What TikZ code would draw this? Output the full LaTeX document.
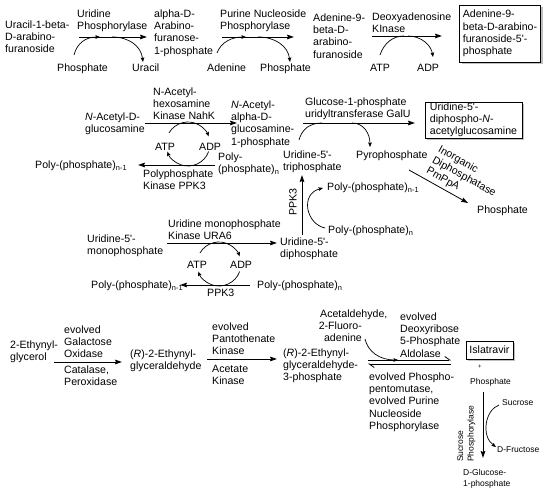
\documentclass[tikz,border=0pt]{standalone}
\usepackage{fontspec}
\setmainfont{Liberation Sans}
\usetikzlibrary{arrows.meta,shadows,calc}
\newcommand\fm{\fontsize{10.6}{12.2}\selectfont}
\newcommand\fsm{\fontsize{8.5}{10.5}\selectfont}
\newcommand\q{\textquotesingle}
\begin{document}
\begin{tikzpicture}[x=1pt,y=-1pt,
  lbl/.style={inner sep=0pt, align=left, anchor=north west, yshift=4.4pt, font=\fm},
  lblr/.style={inner sep=0pt, align=right, anchor=north east, yshift=4.4pt, font=\fm},
  sml/.style={inner sep=0pt, align=left, anchor=north west, yshift=3.6pt, font=\fsm},
  rx/.style={line width=0.8pt, -{Stealth[length=7pt,width=4.6pt,inset=1pt]}},
  cur/.style={line width=0.7pt, -{Stealth[length=4.5pt,width=3.6pt,inset=0.8pt]}},
  plainc/.style={line width=0.7pt},
  hpr/.style={line width=0.8pt, -{Straight Barb[left,length=5pt,width=7pt]}},
  box/.style={draw, line width=0.8pt, fill=white, inner sep=0pt, align=left, font=\fm,
    drop shadow={shadow xshift=2pt,shadow yshift=-2pt,fill=black!50}}
]
\fill[white] (0,0) rectangle (550,494);
\useasboundingbox (0,0) rectangle (550,494);

% ---------- Row 1 ----------
\node[lbl] (n1) at (5,25) {Uracil-1-beta-\\D-arabino-\\furanoside};
\node[lbl] (e1) at (77,14) {Uridine\\Phosphorylase};
\node[lbl] (p1) at (57,68) {Phosphate};
\node[lbl] (u1) at (132,68) {Uracil};
\node[lbl] (n2) at (154,14) {alpha-D-\\Arabino-\\furanose-\\1-phosphate};
\node[lbl] (e2) at (220,14) {Purine Nucleoside\\Phosphorylase};
\node[lbl] (ad) at (207,68) {Adenine};
\node[lbl] (p2) at (260,68) {Phosphate};
\node[lbl] (n3) at (313,18) {Adenine-9-\\beta-D-\\arabino-\\furanoside};
\node[lbl] (e3) at (372,17) {Deoxyadenosine\\KInase};
\node[lbl] (atp1) at (370,68) {ATP};
\node[lbl] (adp1) at (417,68) {ADP};
\node[box, minimum width=81pt, minimum height=57pt] (b1) at (500,33.5)
  {Adenine-9-\\beta-D-arabino-\\furanoside-5\q-\\phosphate};

\coordinate (a1s) at (79,37);  \coordinate (a1e) at (147,37);
\coordinate (c1s) at (74,55);  \coordinate (c1e) at (100,37);
\coordinate (d1s) at (112,37); \coordinate (d1e) at (143,62);
\draw[rx] (a1s) -- (a1e);
\draw[cur] (c1s) .. controls (77,43) and (86,37) .. (c1e);
\draw[cur] (d1s) .. controls (129,37) and (141,46) .. (d1e);

\coordinate (a2s) at (222,37); \coordinate (a2e) at (294,37);
\coordinate (c2s) at (217,53); \coordinate (c2e) at (246,37);
\coordinate (d2s) at (258,37); \coordinate (d2e) at (290,62);
\draw[rx] (a2s) -- (a2e);
\draw[cur] (c2s) .. controls (221,42) and (232,37) .. (c2e);
\draw[cur] (d2s) .. controls (275,37) and (288,46) .. (d2e);

\coordinate (a3s) at (372,36); \coordinate (a3e) at (442,36);
\coordinate (c3s) at (380,55); \coordinate (c3e) at (404,36);
\coordinate (d3s) at (408,36); \coordinate (d3e) at (433,57);
\draw[rx] (a3s) -- (a3e);
\draw[plainc] (c3s) .. controls (384,43) and (393,36) .. (c3e);
\draw[cur] (d3s) .. controls (421,36) and (431,45) .. (d3e);

% ---------- Row 2 ----------
\node[lbl] (e4) at (153,92) {N-Acetyl-\\hexosamine\\Kinase NahK};
\node[lbl] (n4) at (85,117) {\textit{N}-Acetyl-D-\\glucosamine};
\node[lbl] (n5) at (231,105) {\textit{N}-Acetyl-\\alpha-D-\\glucosamine-\\1-phosphate};
\node[lbl] (atp2) at (155,147) {ATP};
\node[lbl] (adp2) at (199,147) {ADP};
\node[lbl] (pn1) at (35,165) {Poly-(phosphate)\textsubscript{n-1}};
\node[lbl] (e5) at (143,174) {Polyphosphate\\Kinase PPK3};
\node[lbl] (pn2) at (218,157) {Poly-\\(phosphate)\textsubscript{n}};

\coordinate (a4s) at (145,123); \coordinate (a4e) at (237,123);
\coordinate (a5s) at (215,165); \coordinate (a5e) at (138,165);
\draw[rx] (a4s) -- (a4e);
\draw[rx] (a5s) -- (a5e);
\coordinate (k1) at (188,144);
\draw[cur] ($(k1)+(210:22)$) arc[start angle=210, end angle=340, radius=22];
\draw[cur] ($(k1)+(20:22)$) arc[start angle=20, end angle=160, radius=22];

\node[lbl] (e6) at (305,102) {Glucose-1-phosphate\\uridyltransferase GalU};
\node[lbl] (utp) at (283,155) {Uridine-5\q-\\triphosphate};
\node[lbl] (ppi) at (356,155) {Pyrophosphate};
\node[box, minimum width=97pt, minimum height=36pt] (b2) at (473.5,120)
  {Uridine-5\q-\\diphospho-\textit{N}-\\acetylglucosamine};
\coordinate (a6s) at (303,123); \coordinate (a6e) at (415,123);
\coordinate (c6s) at (299,140); \coordinate (c6e) at (322,123);
\coordinate (d6s) at (352,123); \coordinate (d6e) at (370,147);
\draw[rx] (a6s) -- (a6e);
\draw[plainc] (c6s) .. controls (302,129) and (310,123) .. (c6e);
\draw[cur] (d6s) .. controls (364,123) and (370,134) .. (d6e);

\node[font=\fm, align=left, rotate=-29, inner sep=0pt] (e7) at (464,177) {Inorganic\\Diphosphatase\\PmPpA};
\node[lbl] (p3) at (477,210) {Phosphate};
\coordinate (a7s) at (409,170); \coordinate (a7e) at (468,203);
\draw[rx] (a7s) -- (a7e);

\node[font=\fm, rotate=90, inner sep=0pt] (ppk) at (293,202) {PPK3};
\node[lbl] (pn3) at (327,187) {Poly-(phosphate)\textsubscript{n-1}};
\node[lbl] (pn4) at (328,230) {Poly-(phosphate)\textsubscript{n}};
\node[lbl] (udp) at (280,242) {Uridine-5\q-\\diphosphate};
\coordinate (a8s) at (302,235); \coordinate (a8e) at (302,175);
\draw[rx] (a8s) -- (a8e);
\coordinate (c8s) at (325,228); \coordinate (c8e) at (323,188);
\draw[cur] (c8s) .. controls (306,224) and (300,194) .. (c8e);

% ---------- Row 3 ----------
\node[lbl] (e8) at (168,224) {Uridine monophosphate\\Kinase URA6};
\node[lbl] (ump) at (87,239) {Uridine-5\q-\\monophosphate};
\node[lbl] (atp3) at (187,265) {ATP};
\node[lbl] (adp3) at (230,265) {ADP};
\node[lbl] (pn5) at (91,285) {Poly-(phosphate)\textsubscript{n-1}};
\node[lbl] (ppk2) at (207,293) {PPK3};
\node[lbl] (pn6) at (257,285) {Poly-(phosphate)\textsubscript{n}};
\coordinate (a9s) at (167,243); \coordinate (a9e) at (277,243);
\coordinate (a10s) at (250,285); \coordinate (a10e) at (180,285);
\draw[rx] (a9s) -- (a9e);
\draw[rx] (a10s) -- (a10e);
\coordinate (k2) at (219,264);
\draw[cur] ($(k2)+(210:22)$) arc[start angle=210, end angle=340, radius=22];
\draw[cur] ($(k2)+(20:22)$) arc[start angle=20, end angle=160, radius=22];

% ---------- Row 4 ----------
\node[lbl] (eg) at (10,345) {2-Ethynyl-\\glycerol};
\node[lbl] (e9) at (64,330) {evolved\\Galactose\\Oxidase};
\node[lbl] (e9b) at (64,370) {Catalase,\\Peroxidase};
\node[lbl] (rg) at (130,354) {(\textit{R})-2-Ethynyl-\\glyceraldehyde};
\node[lbl] (e10) at (212,327) {evolved\\Pantothenate\\Kinase};
\node[lbl] (e10b) at (212,369) {Acetate\\Kinase};
\node[lbl] (rg3) at (283,353) {(\textit{R})-2-Ethynyl-\\glyceraldehyde-\\3-phosphate};
\node[lbl] (acet) at (320,314) {Acetaldehyde,};
\node[lblr] (fa) at (362,326) {2-Fluoro-\\adenine};
\node[lbl] (e11) at (400,317) {evolved\\Deoxyribose\\5-Phosphate\\Aldolase};
\node[lbl] (e12) at (369,377) {evolved Phospho-\\pentomutase,\\evolved Purine\\Nucleoside\\Phosphorylase};
\node[box, minimum width=47pt, minimum height=18pt] (isl) at (489.5,350) {Islatravir};

\coordinate (a11s) at (54,362); \coordinate (a11e) at (122,362);
\coordinate (a12s) at (207,359); \coordinate (a12e) at (277,359);
\draw[rx] (a11s) -- (a11e);
\draw[rx] (a12s) -- (a12e);
\coordinate (q1s) at (368,360); \coordinate (q1e) at (451,360);
\coordinate (q2s) at (451,364); \coordinate (q2e) at (368,364);
\draw[hpr] (q1s) -- (q1e);
\draw[hpr] (q2s) -- (q2e);
\coordinate (c11s) at (365,339); \coordinate (c11e) at (398,360);
\draw[cur] (c11s) .. controls (368,352) and (380,360) .. (c11e);

\node[font=\fontsize{6}{6}\selectfont, inner sep=0pt] (plus) at (480,367) {+};
\node[sml] (p4) at (470,382) {Phosphate};
\node[font=\fsm, align=left, rotate=90, inner sep=0pt, anchor=north west] (e13) at (457,462) {Sucrose\\Phosphorylase};
\node[sml] (suc) at (502,403) {Sucrose};
\node[sml] (fru) at (497,450) {D-Fructose};
\node[sml] (glc) at (463,473) {D-Glucose-\\1-phosphate};
\coordinate (a13s) at (483,392); \coordinate (a13e) at (483,458);
\draw[rx] (a13s) -- (a13e);
\coordinate (c13s) at (499,405); \coordinate (c13e) at (496,447);
\draw[cur] (c13s) .. controls (485,410) and (481,436) .. (c13e);
\end{tikzpicture}
\end{document}
